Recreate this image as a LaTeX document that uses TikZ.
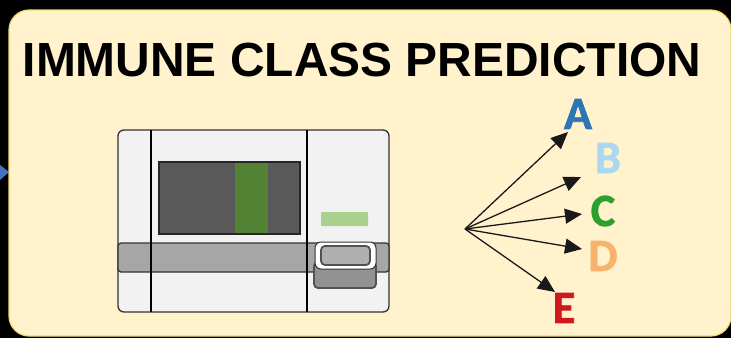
\documentclass[tikz,border=0pt]{standalone}
\usepackage{fontspec}
\setmainfont{Liberation Sans}
\newfontfamily\lettersfont[BoldFeatures={FakeBold=1.6}]{Carlito}
\usetikzlibrary{arrows.meta}
\definecolor{panelfill}{HTML}{FFF2CC}
\definecolor{paneledge}{HTML}{F2D96B}
\definecolor{devfill}{HTML}{F2F2F2}
\definecolor{devline}{HTML}{333333}
\definecolor{screenc}{HTML}{595959}
\definecolor{greenbar}{HTML}{548235}
\definecolor{lightbar}{HTML}{A9D18E}
\definecolor{bandc}{HTML}{A6A6A6}
\definecolor{btnlow}{HTML}{929292}
\definecolor{btnin}{HTML}{B0B0B0}
\definecolor{cA}{HTML}{2E75B6}
\definecolor{cB}{HTML}{ABD8F0}
\definecolor{cC}{HTML}{2CA02C}
\definecolor{cD}{HTML}{F7B26E}
\definecolor{cE}{HTML}{D2181F}
\definecolor{inarrow}{HTML}{4472C4}
\tikzset{
  letter/.style={font=\lettersfont\fontsize{46}{46}\selectfont\bfseries, inner sep=0pt, anchor=center},
  fanarrow/.style={draw=black!90, line width=1.3pt, -{Triangle[length=17pt,width=15pt]}},
  devborder/.style={draw=devline, line width=1.3pt},
}
\begin{document}
\begin{tikzpicture}[x=1pt,y=-1pt]
\useasboundingbox (0,0) rectangle (731,338);
\fill[black] (0,0) rectangle (731,338);
\fill[inarrow] (0,165) -- (9,172) -- (0,180) -- cycle;
\draw[fill=panelfill, draw=paneledge, line width=1.2pt, rounded corners=20pt] (9,10) rectangle (731,336);
\node[font=\bfseries\fontsize{47.9}{47.9}\selectfont, inner sep=0pt, anchor=center] (title) at (362,60.5) {IMMUNE CLASS PREDICTION};
% device
\draw[devborder, fill=devfill, rounded corners=6pt] (118,130) rectangle (389,312);
\draw[devborder, fill=bandc, rounded corners=3pt] (118,243) rectangle (389,272);
\draw[black, line width=1.2pt] (151,130) -- (151,312);
\draw[black, line width=1.2pt] (307,130) -- (307,312);
\fill[screenc] (159,162) rectangle (300,234);
\fill[greenbar] (235,162) rectangle (268,234);
\draw[black!85, line width=1.2pt] (159,162) rectangle (300,234);
\fill[lightbar, rounded corners=1pt] (321,212) rectangle (368,226);
\draw[draw=devline!85, line width=1.8pt, fill=btnlow, rounded corners=4pt] (314,262) rectangle (376,288);
\draw[draw=devline, line width=1pt, fill=white, rounded corners=6pt] (315,242) rectangle (376,269);
\draw[draw=devline!85, line width=1.8pt, fill=btnin, rounded corners=4pt] (321,246) rectangle (370,265);
% letters
\node[letter, text=cA] (A) at (578,114) {A};
\node[letter, text=cB] (B) at (608,158) {B};
\node[letter, text=cC] (C) at (603,211) {C};
\node[letter, text=cD] (D) at (603,256) {D};
\node[letter, text=cE] (E) at (564,308) {E};
% fan
\coordinate (fan) at (465,229);
\coordinate (tA) at (568,132);
\coordinate (tB) at (581,177);
\coordinate (tC) at (582,214);
\coordinate (tD) at (582,249);
\coordinate (tE) at (555,292);
\foreach \t in {tA,tB,tC,tD,tE} \draw[fanarrow] (fan) -- (\t);
\end{tikzpicture}
\end{document}
